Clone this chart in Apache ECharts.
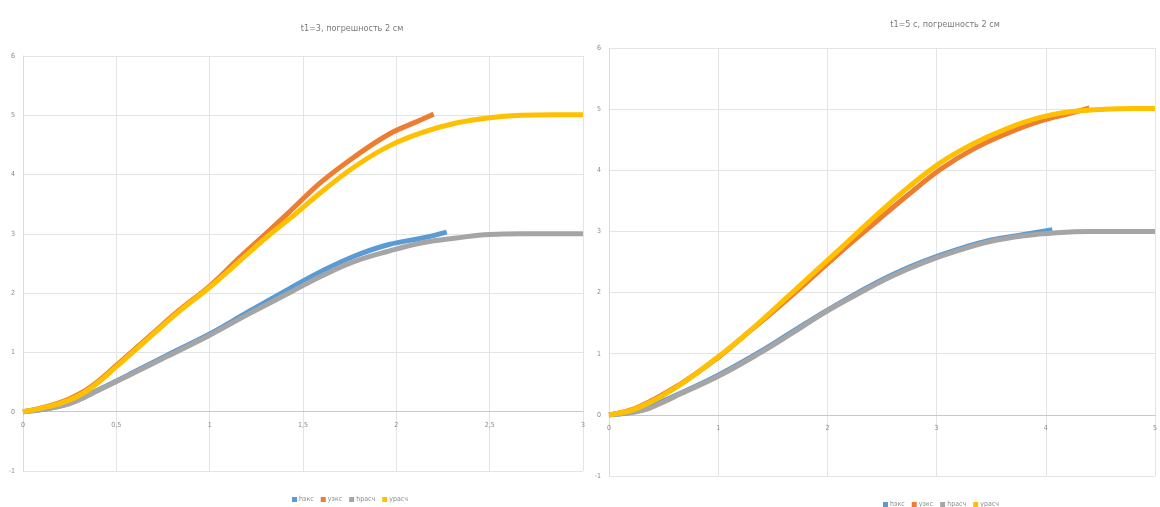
<!DOCTYPE html>
<html>
<head>
<meta charset="utf-8">
<script src="https://cdn.jsdelivr.net/npm/echarts@6/dist/echarts.min.js"></script>
<style>
  html, body { margin: 0; padding: 0; background: #fff; }
  #chart { width: 1160px; height: 507px; }
</style>
</head>
<body>
<div id="chart"></div>
<script>
// Chart titles and legend names
const titles = ['t1=3, погрешность 2 см', 't1=5 с, погрешность 2 см'];
const seriesNames = ['hэкс', 'yэкс', 'hрасч', 'yрасч'];

// ---- Run 1: t1 = 3 ----
const r1HexpX = [0, 0.23, 0.41, 0.59, 0.77, 1.0, 1.21, 1.43, 1.6, 1.78, 1.96, 2.14, 2.27];
const r1HexpY = [0, 0.12, 0.38, 0.66, 0.95, 1.31, 1.69, 2.08, 2.37, 2.63, 2.82, 2.93, 3.03];
const r1YexpX = [0, 0.14, 0.25, 0.36, 0.5, 0.68, 0.84, 1.0, 1.16, 1.3, 1.43, 1.6, 1.78, 1.96, 2.1, 2.2];
const r1YexpY = [0, 0.1, 0.22, 0.41, 0.78, 1.28, 1.72, 2.12, 2.6, 3.0, 3.38, 3.88, 4.31, 4.68, 4.88, 5.02];
const r1HcalcX = [0, 0.23, 0.41, 0.59, 0.77, 1.0, 1.21, 1.43, 1.6, 1.78, 1.96, 2.14, 2.32, 2.5, 2.67, 2.85, 3.0];
const r1HcalcY = [0, 0.12, 0.37, 0.65, 0.93, 1.29, 1.65, 2.01, 2.29, 2.54, 2.71, 2.85, 2.93, 2.99, 3.0, 3.0, 3.0];
const r1YcalcX = [0, 0.14, 0.25, 0.36, 0.5, 0.68, 0.84, 1.0, 1.16, 1.3, 1.43, 1.6, 1.78, 1.96, 2.14, 2.32, 2.5, 2.67, 2.85, 3.0];
const r1YcalcY = [0, 0.09, 0.2, 0.39, 0.76, 1.26, 1.70, 2.10, 2.54, 2.93, 3.26, 3.71, 4.14, 4.48, 4.71, 4.87, 4.96, 5.0, 5.01, 5.01];

// ---- Run 2: t1 = 5 ----
const r2HexpX = [0, 0.3, 0.5, 0.65, 1.0, 1.38, 1.68, 1.97, 2.28, 2.58, 2.88, 3.2, 3.5, 3.8, 4.06];
const r2HexpY = [0, 0.08, 0.23, 0.35, 0.65, 1.03, 1.36, 1.68, 2.0, 2.28, 2.51, 2.71, 2.86, 2.95, 3.03];
const r2YexpX = [0, 0.26, 0.65, 1.0, 1.23, 1.53, 1.83, 2.13, 2.44, 2.74, 3.04, 3.34, 3.64, 3.94, 4.24, 4.4];
const r2YexpY = [0, 0.12, 0.5, 0.94, 1.28, 1.73, 2.2, 2.68, 3.15, 3.6, 4.02, 4.35, 4.6, 4.8, 4.94, 5.02];
const r2HcalcX = [0, 0.3, 0.5, 0.65, 1.0, 1.38, 1.68, 1.97, 2.28, 2.58, 2.88, 3.2, 3.5, 3.8, 4.1, 4.4, 4.7, 5.0];
const r2HcalcY = [0, 0.07, 0.21, 0.34, 0.63, 1.01, 1.34, 1.67, 1.98, 2.26, 2.49, 2.69, 2.84, 2.93, 2.98, 3.0, 3.0, 3.0];
const r2YcalcX = [0, 0.26, 0.65, 1.0, 1.23, 1.53, 1.83, 2.13, 2.44, 2.74, 3.04, 3.34, 3.64, 3.94, 4.24, 4.54, 4.8, 5.0];
const r2YcalcY = [0, 0.11, 0.49, 0.95, 1.28, 1.76, 2.25, 2.74, 3.25, 3.72, 4.13, 4.44, 4.68, 4.86, 4.96, 5.0, 5.01, 5.01];

const colors = ['#5B9BD5', '#ED7D31', '#A5A5A5', '#FFC000'];
const font = "'Liberation Sans Narrow', 'DejaVu Sans Condensed', 'Liberation Sans', sans-serif";

const zip = (xs, ys) => xs.map((x, i) => [x, ys[i]]);

const runs = [
  [[r1HexpX, r1HexpY], [r1YexpX, r1YexpY], [r1HcalcX, r1HcalcY], [r1YcalcX, r1YcalcY]],
  [[r2HexpX, r2HexpY], [r2YexpX, r2YexpY], [r2HcalcX, r2HcalcY], [r2YcalcX, r2YcalcY]]
];

// Plot boxes; the horizontal axis sits on y = 0 (one unit above the bottom of a -1..6 range)
const grids = [
  { left: 23, top: 56, width: 560, height: 415 },
  { left: 609, top: 48, width: 552, height: 428 }
];
const yMin = -1, yMax = 6;

const gridLine = { show: true, lineStyle: { color: '#e4e4e4', width: 1 } };
const axisText = { color: '#8a8a8a', fontSize: 7, fontFamily: font };

function xAxis(gridIndex, max, interval) {
  const g = grids[gridIndex];
  return {
    type: 'value', gridIndex, min: 0, max, interval,
    position: 'bottom',
    offset: -g.height * (0 - yMin) / (yMax - yMin),
    axisLine: { onZero: false, lineStyle: { color: '#c8c8c8', width: 1 } },
    axisTick: { show: false },
    splitLine: gridLine,
    axisLabel: Object.assign({ margin: 10, formatter: v => String(v).replace('.', ',') }, axisText)
  };
}
function yAxis(gridIndex) {
  return {
    type: 'value', gridIndex, min: yMin, max: yMax, interval: 1,
    axisLine: { show: true, lineStyle: { color: '#dcdcdc', width: 1 } },
    axisTick: { show: false },
    splitLine: gridLine,
    axisLabel: Object.assign({ margin: 8 }, axisText)
  };
}

const series = [];
runs.forEach((run, g) => {
  run.forEach(([xs, ys], i) => {
    series.push({
      name: seriesNames[i],
      type: 'line',
      xAxisIndex: g, yAxisIndex: g,
      data: zip(xs, ys),
      smooth: 0.4,
      showSymbol: false,
      lineStyle: { color: colors[i], width: 5 },
      itemStyle: { color: colors[i] },
      z: 2 + i
    });
  });
});

const legendBase = {
  data: seriesNames,
  icon: 'rect',
  itemWidth: 5, itemHeight: 5, itemGap: 7,
  textStyle: { color: '#8a8a8a', fontSize: 7, fontFamily: font, padding: [0, 0, 0, -3] }
};

const chart = echarts.init(document.getElementById('chart'), null, { renderer: 'canvas' });
chart.setOption({
  animation: false,
  backgroundColor: '#fff',
  title: [
    { text: titles[0], left: 347, top: 19, textAlign: 'center',
      textStyle: { color: '#7a7a7a', fontSize: 9, fontWeight: 'normal', fontFamily: font } },
    { text: titles[1], left: 940, top: 15, textAlign: 'center',
      textStyle: { color: '#7a7a7a', fontSize: 9, fontWeight: 'normal', fontFamily: font } }
  ],
  legend: [
    Object.assign({ left: 287, top: 491 }, legendBase),
    Object.assign({ left: 878, top: 496 }, legendBase)
  ],
  grid: grids,
  xAxis: [xAxis(0, 3, 0.5), xAxis(1, 5, 1)],
  yAxis: [yAxis(0), yAxis(1)],
  series
});
</script>
</body>
</html>
